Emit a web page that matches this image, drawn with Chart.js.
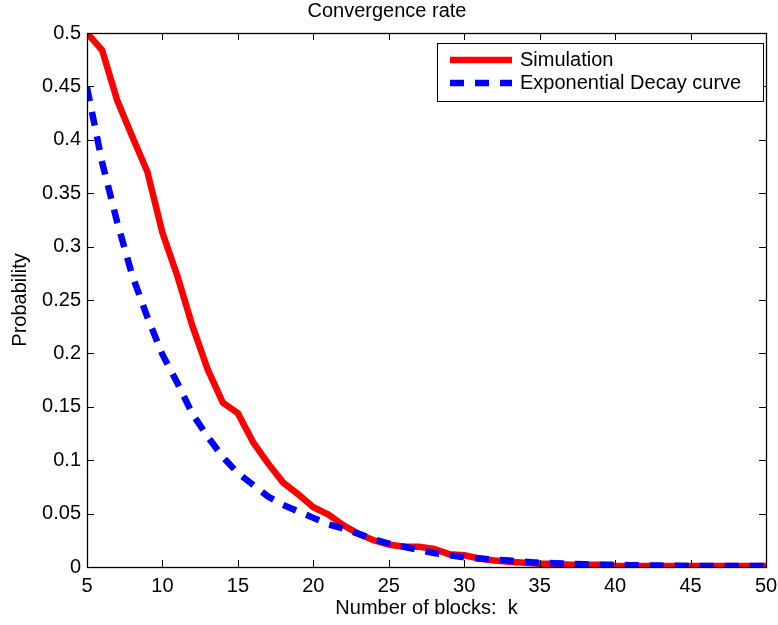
<!DOCTYPE html>
<html>
<head>
<meta charset="utf-8">
<script src="https://cdn.jsdelivr.net/npm/chart.js@4"></script>
<style>
  body { margin: 0; background: #fff; }
  #wrap { width: 778px; height: 625px; }
</style>
</head>
<body>
<div id="wrap"><canvas id="convChart" width="778" height="625"></canvas></div>
<script>
// Number of blocks k (x axis)
const blocks = [5, 6, 7, 8, 9, 10, 11, 12, 13, 14, 15, 16, 17, 18, 19, 20,
    21, 22, 23, 24, 25, 26, 27, 28, 29, 30, 31, 32, 33, 34, 35,
    36, 37, 38, 39, 40, 41, 42, 43, 44, 45, 46, 47, 48, 49, 50];

// Simulated probability
const simulation = [0.500, 0.484, 0.437, 0.403, 0.370, 0.313, 0.272, 0.225, 0.185, 0.154,
    0.144, 0.117, 0.097, 0.079, 0.068, 0.056, 0.049, 0.039, 0.031, 0.025,
    0.021, 0.019, 0.019, 0.017, 0.012, 0.011, 0.008, 0.006, 0.005, 0.004,
    0.003, 0.003, 0.002, 0.002, 0.002, 0.001, 0.001, 0.001, 0.001, 0.001,
    0.001, 0.001, 0.001, 0.001, 0.001, 0.001];

// Exponential decay curve
const decayCurve = [0.449, 0.379, 0.323, 0.273, 0.234, 0.199, 0.172, 0.143, 0.122, 0.103,
    0.088, 0.077, 0.066, 0.058, 0.052, 0.046, 0.040, 0.036, 0.031, 0.026,
    0.022, 0.019, 0.016, 0.013, 0.011, 0.009, 0.008, 0.007, 0.006, 0.005,
    0.004, 0.0035, 0.003, 0.0025, 0.002, 0.002, 0.0017, 0.0015, 0.0013, 0.0012,
    0.001, 0.001, 0.001, 0.001, 0.001, 0.001];

const xTicks = [5, 10, 15, 20, 25, 30, 35, 40, 45, 50];
const yTicks = [0, 0.05, 0.1, 0.15, 0.2, 0.25, 0.3, 0.35, 0.4, 0.45, 0.5];
const seriesLabels = ['Simulation', 'Exponential Decay curve'];

const FONT = 'Liberation Sans, Arial, Helvetica, sans-serif';

function toPoints(ys) {
    return blocks.map((k, i) => ({ x: k, y: ys[i] }));
}

// MATLAB style frame: full box, ticks pointing inward, legend inside top-right
const matlabFrame = {
    id: 'matlabFrame',
    afterDraw(chart) {
        const ctx = chart.ctx;
        const a = chart.chartArea;
        const xs = chart.scales.x;
        const ys = chart.scales.y;
        const tl = 7;
        ctx.save();
        ctx.strokeStyle = '#000';
        ctx.lineWidth = 1;
        ctx.setLineDash([]);
        ctx.beginPath();
        xs.ticks.forEach(t => {
            const px = Math.round(xs.getPixelForValue(t.value)) + 0.5;
            ctx.moveTo(px, a.bottom); ctx.lineTo(px, a.bottom - tl);
            ctx.moveTo(px, a.top); ctx.lineTo(px, a.top + tl);
        });
        ys.ticks.forEach(t => {
            const py = Math.round(ys.getPixelForValue(t.value)) + 0.5;
            ctx.moveTo(a.left, py); ctx.lineTo(a.left + tl, py);
            ctx.moveTo(a.right, py); ctx.lineTo(a.right - tl, py);
        });
        ctx.stroke();
        ctx.lineWidth = 1.3;
        ctx.strokeRect(Math.round(a.left) + 0.5, Math.round(a.top) + 0.5,
            Math.round(a.right - a.left), Math.round(a.bottom - a.top));

        // legend box
        const lx = 437.5, ly = 43.5, lw = 326, lh = 58;
        ctx.fillStyle = '#fff';
        ctx.fillRect(lx, ly, lw, lh);
        ctx.lineWidth = 1;
        ctx.strokeRect(lx, ly, lw, lh);
        const rows = [60, 83];
        chart.data.datasets.forEach((ds, i) => {
            const y = rows[i];
            ctx.strokeStyle = ds.borderColor;
            ctx.lineWidth = ds.borderWidth;
            ctx.lineCap = 'butt';
            ctx.setLineDash(ds.borderDash || []);
            ctx.beginPath();
            ctx.moveTo(450, y);
            ctx.lineTo(512, y);
            ctx.stroke();
            ctx.setLineDash([]);
            ctx.fillStyle = '#000';
            ctx.font = '20px ' + FONT;
            ctx.textBaseline = 'middle';
            ctx.textAlign = 'left';
            ctx.fillText(ds.label, 520, y);
        });
        ctx.restore();
    }
};

const ctx = document.getElementById('convChart').getContext('2d');
new Chart(ctx, {
    type: 'line',
    data: {
        datasets: [
            {
                label: seriesLabels[0],
                data: toPoints(simulation),
                borderColor: '#ff0000',
                borderWidth: 6.5,
                pointRadius: 0,
                tension: 0,
                fill: false,
                order: 1
            },
            {
                label: seriesLabels[1],
                data: toPoints(decayCurve),
                borderColor: '#0000ff',
                borderWidth: 6.5,
                borderDash: [14, 11],
                borderCapStyle: 'butt',
                pointRadius: 0,
                tension: 0,
                fill: false,
                order: 0
            }
        ]
    },
    options: {
        responsive: false,
        animation: false,
        layout: { padding: { left: 8, right: 12, top: 0, bottom: 5 } },
        plugins: {
            legend: { display: false },
            tooltip: { enabled: false },
            title: {
                display: true,
                text: 'Convergence rate',
                color: '#000',
                font: { family: FONT, size: 20, weight: 'normal', lineHeight: 1.0 },
                padding: { top: 1, bottom: 12 }
            }
        },
        scales: {
            x: {
                type: 'linear',
                min: 5,
                max: 50,
                afterBuildTicks: s => { s.ticks = xTicks.map(v => ({ value: v })); },
                grid: { display: false, drawTicks: false },
                border: { display: false },
                ticks: {
                    color: '#000',
                    font: { family: FONT, size: 20 },
                    padding: 7,
                    maxRotation: 0,
                    autoSkip: false
                },
                title: {
                    display: true,
                    text: 'Number of blocks:  k',
                    color: '#000',
                    font: { family: FONT, size: 20 },
                    padding: 0
                },
                afterFit: s => { s.height = 53; s.paddingLeft = 0; s.paddingRight = 0; }
            },
            y: {
                min: 0,
                max: 0.5,
                afterBuildTicks: s => { s.ticks = yTicks.map(v => ({ value: v })); },
                grid: { display: false, drawTicks: false },
                border: { display: false },
                ticks: {
                    color: '#000',
                    font: { family: FONT, size: 20 },
                    padding: 6,
                    callback: v => String(v)
                },
                title: {
                    display: true,
                    text: 'Probability',
                    color: '#000',
                    font: { family: FONT, size: 20 },
                    padding: 0
                },
                afterFit: s => { s.width = 79; }
            }
        }
    },
    plugins: [matlabFrame]
});
</script>
</body>
</html>
